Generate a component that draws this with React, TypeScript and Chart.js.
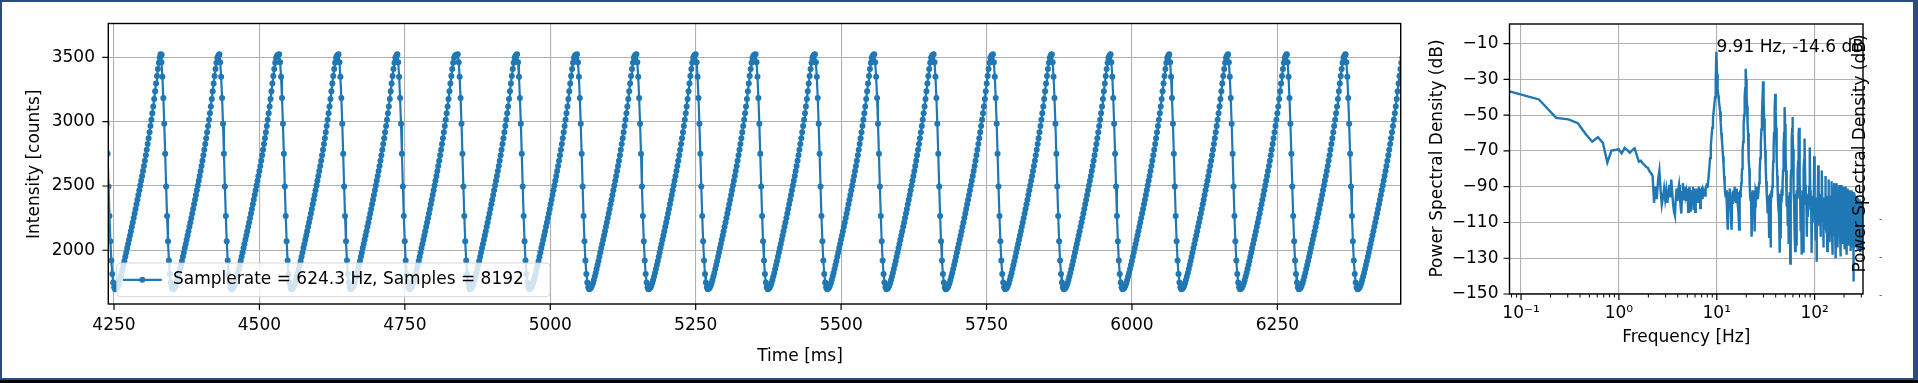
import React, { useEffect, useRef } from 'react';
import { Chart, registerables } from 'chart.js';

Chart.register(...registerables);

// ---------------- data ----------------
const SAMPLE_RATE_HZ = 624.3;
const SAMPLE_COUNT = 8192;

const timeTicks = [4250, 4500, 4750, 5000, 5250, 5500, 5750, 6000, 6250];
const intensityTicks = [2000, 2500, 3000, 3500];

// times (ms) of each pulse maximum
const cyclePeakTimesMs = [
  4231, 4330, 4431, 4534, 4636, 4737, 4841, 4943, 5046, 5148, 5250,
  5353, 5455, 5557, 5659, 5761, 5862, 5963, 6064, 6165, 6266, 6367,
];

// one pulse, sample by sample from its maximum (counts)
const cycleSampleCounts = [
  3525, 3462, 3349, 3185, 2984, 2750, 2497, 2267, 2071, 1920,
  1815, 1750, 1712, 1696, 1700, 1709, 1724, 1744, 1768, 1795,
  1824, 1854, 1885, 1917, 1950, 1983, 2017, 2049, 2081, 2115,
  2148, 2182, 2216, 2251, 2286, 2321, 2357, 2393, 2429, 2466,
  2503, 2540, 2578, 2616, 2656, 2697, 2739, 2782, 2826, 2872,
  2919, 2967, 3016, 3066, 3119, 3177, 3237, 3297, 3355, 3410,
  3458, 3497, 3514, 3521,
];

const freqMajorTicks = [0.1, 1, 10, 100];
const freqMajorLabels = ['10\u207B\u00B9', '10\u2070', '10\u00B9', '10\u00B2'];
const freqMinorTicks = [
  0.08, 0.09, 0.2, 0.3, 0.4, 0.5, 0.6, 0.7, 0.8, 0.9,
  2, 3, 4, 5, 6, 7, 8, 9, 20, 30, 40, 50, 60, 70, 80, 90, 200, 300,
];
const psdTicks = [-150, -130, -110, -90, -70, -50, -30, -10];

// PSD (dB) at FFT bins 1..104
const psdDbBins1to104 = [
  -36.7, -41.2, -51.5, -52.3, -54.5, -60.5, -64.8, -62.3, -65.5, -76.5,
  -69.8, -69.5, -69.0, -71.3, -68.3, -69.5, -71.0, -69.5, -68.5, -72.5,
  -76.0, -75.5, -77.0, -78.0, -79.0, -79.5, -81.5, -82.5,
  -84, -99, -90, -97, -86, -81, -92, -100, -96, -91,
  -97, -92, -99, -94, -89, -96, -86, -93, -100, -104,
  -106, -97, -91, -98, -92, -89, -95, -101, -105, -93,
  -88, -92, -97, -90, -95, -93, -98, -91, -104, -96,
  -90, -95, -104, -97, -92, -96, -90, -103, -95, -91,
  -104, -97, -92, -96, -91, -99, -94, -90, -96, -93,
  -102, -95, -91, -94, -90, -97, -93, -95, -91, -94,
  -92, -95, -91, -90, -88, -90,
];
// PSD (dB) at FFT bins 106..330, every 2nd bin
const psdDbBins106to330 = [
  -90, -85, -80, -74, -68, -62, -57, -52, -48, -44, -40, -31, -14.6, -27,
  -35, -39, -42, -45, -48, -54, -60, -64, -68, -73, -78, -84, -89, -94,
  -96, -92, -99, -108, -114, -100, -93, -97, -91, -95, -102, -110, -114,
  -99, -93, -96, -92, -98, -94, -90, -96, -92, -99, -95, -91, -97, -93,
  -100, -104, -108, -114, -103, -95, -92, -96,
  -92, -88, -84, -80, -75, -70, -65, -60, -55, -50, -45, -40, -35, -30, -24,
  -30, -35, -40, -45, -50, -55, -60, -65, -70, -75, -80, -85, -90, -95, -98,
  -93, -97, -104, -112, -118, -103, -95, -92, -97, -93, -99, -95, -92, -98,
  -108, -115, -101, -94, -97, -92,
];
// PSD (dB) at FFT bins 335..1035, every 5th bin
const psdDbBins335to1035 = [
  -94, -90, -97, -93, -88, -82, -74, -66, -58, -50, -41,
  -31,
  -42, -52, -61, -70, -79, -87, -94, -99, -105, -95, -100, -118, -98, -94,
  -124, -100, -92, -96, -90,
  -84, -76, -68, -60, -53, -46,
  -38,
  -48, -57, -66, -75, -84, -92, -98, -104, -96, -110, -127, -101, -94,
  -119, -97, -92, -99, -91, -95, -88,
  -81, -74, -67, -60, -53,
  -45.5,
  -55, -64, -73, -81, -89, -95, -101, -96, -112, -104, -97, -122, -105,
  -95, -100, -93, -100, -133, -91, -86,
  -81, -75, -69, -63, -57,
  -51,
  -60, -69, -78, -86, -93, -99, -108, -96, -117, -126, -101, -94, -110,
  -97, -123, -99, -92, -96, -89, -85, -81, -76, -71, -66, -61,
  -57,
  -65, -73, -81, -88, -96, -104, -97, -115, -100, -128, -103, -95, -112,
  -99, -120, -97, -92, -99, -127, -88, -85, -80, -75, -70, -67,
];
// PSD (dB) at FFT bins 1040..4082, every 13th bin
const psdDbBins1040to4082 = [
  -63, -89, -100, -94, -118, -97, -107, -96, -101, -90,
  -68, -92, -103, -96, -127, -99, -110, -95, -104, -94,
  -73, -95, -104, -97, -120, -98, -132, -96, -102, -97,
  -78, -97, -108, -95, -112, -100, -118, -94, -106, -99,
  -81, -99, -110, -96, -124, -101, -113, -97, -104, -100,
  -84, -100, -114, -95, -116, -102, -126, -96, -108, -98,
  -86, -101, -112, -97, -121, -99, -113, -95, -110, -99,
  -87, -103, -116, -96, -128, -100, -117, -97, -112, -98,
  -88, -104, -115, -94, -119, -101, -130, -96, -111, -99,
  -88, -105, -118, -97, -124, -100, -112, -95, -115, -100,
  -89, -106, -117, -96, -118, -102, -129, -97, -113, -99,
  -89, -107, -120, -98, -122, -101, -115, -96, -117, -100,
  -90, -108, -117, -97, -125, -103, -119, -98, -114, -101,
  -90, -109, -121, -99, -128, -102, -114, -97, -118, -100,
  -91, -110, -120, -98, -118, -104, -123, -99, -115, -102,
  -92, -111, -122, -100, -126, -103, -117, -98, -119, -101,
  -92, -112, -119, -99, -121, -105, -124, -100, -116, -103,
  -93, -143, -123, -101, -120, -104, -118, -99, -121, -102,
  -94, -112, -118, -100, -124, -106, -120, -101, -117, -103,
  -95, -114, -121, -102, -119, -105, -125, -100, -118, -104,
  -96, -113, -125, -101, -122, -107, -119, -102, -120, -103,
  -97, -116, -120, -103, -126, -106, -121, -101, -117, -105,
  -98, -117, -124, -102, -119, -108, -123, -103, -121, -104,
  -99, -118, -110, -122, -106,
];

const peakFreqHz = 9.91;
const peakDb = -14.6;

// ---------------- tables built from the arrays ----------------
const SAMPLE_MS = 1000 / SAMPLE_RATE_HZ;
const BIN_HZ = SAMPLE_RATE_HZ / SAMPLE_COUNT;

const timeSeries = cyclePeakTimesMs.flatMap((t0) =>
  cycleSampleCounts.map((v, i) => ({ x: t0 + i * SAMPLE_MS, y: v }))
);

const psdSegments = [
  { firstBin: 1, binStep: 1, db: psdDbBins1to104 },
  { firstBin: 106, binStep: 2, db: psdDbBins106to330 },
  { firstBin: 335, binStep: 5, db: psdDbBins335to1035 },
  { firstBin: 1040, binStep: 13, db: psdDbBins1040to4082 },
];
const psdSeries = psdSegments.flatMap((s) =>
  s.db.map((d, i) => ({ x: (s.firstBin + i * s.binStep) * BIN_HZ, y: d }))
);

const legendLabel = `Samplerate = ${SAMPLE_RATE_HZ} Hz, Samples = ${SAMPLE_COUNT}`;
const peakLabel = `${peakFreqHz} Hz, ${peakDb} dB`;

// ---------------- style ----------------
const BLUE = '#1f77b4';
const GRID = '#b0b0b0';
const INK = '#000000';
const FRAME_BLUE = '#2b4c7e';
const FAMILY = '"DejaVu Sans", sans-serif';
const FS = 17;
const font = (size: number = FS) => `${size}px ${FAMILY}`;

function strokeSpines(ctx: CanvasRenderingContext2D, a: any) {
  ctx.strokeStyle = INK;
  ctx.lineWidth = 1.4;
  ctx.strokeRect(a.left, a.top, a.right - a.left, a.bottom - a.top);
}

function rotatedText(ctx: CanvasRenderingContext2D, text: string, x: number, y: number) {
  ctx.save();
  ctx.translate(x, y);
  ctx.rotate(-Math.PI / 2);
  ctx.textAlign = 'center';
  ctx.textBaseline = 'middle';
  ctx.fillText(text, 0, 0);
  ctx.restore();
}

const timeDecor = {
  id: 'timeDecor',
  afterDatasetsDraw(chart: any) {
    const { ctx, chartArea: a, scales } = chart;
    ctx.save();
    strokeSpines(ctx, a);
    ctx.lineWidth = 1.2;
    ctx.strokeStyle = INK;
    ctx.beginPath();
    for (const v of timeTicks) {
      const px = scales.x.getPixelForValue(v);
      ctx.moveTo(px, a.bottom);
      ctx.lineTo(px, a.bottom + 6);
    }
    for (const v of intensityTicks) {
      const py = scales.y.getPixelForValue(v);
      ctx.moveTo(a.left, py);
      ctx.lineTo(a.left - 6, py);
    }
    ctx.stroke();

    ctx.fillStyle = INK;
    ctx.font = font();
    ctx.textAlign = 'center';
    ctx.textBaseline = 'middle';
    ctx.fillText('Time [ms]', (a.left + a.right) / 2 + 45.5, a.bottom + 53);
    rotatedText(ctx, 'Intensity [counts]', a.left - 74.1, (a.top + a.bottom) / 2 + 0.5);

    // legend
    const lx = a.left + 8.4;
    const lw = 433.3;
    const lh = 33.7;
    const ly = a.bottom - 7.3 - lh;
    ctx.beginPath();
    if ((ctx as any).roundRect) (ctx as any).roundRect(lx, ly, lw, lh, 4);
    else ctx.rect(lx, ly, lw, lh);
    ctx.fillStyle = 'rgba(255,255,255,0.8)';
    ctx.fill();
    ctx.strokeStyle = 'rgba(204,204,204,0.8)';
    ctx.lineWidth = 1;
    ctx.stroke();
    const cy = ly + lh / 2;
    ctx.strokeStyle = BLUE;
    ctx.lineWidth = 2.2;
    ctx.beginPath();
    ctx.moveTo(lx + 6.3, cy);
    ctx.lineTo(lx + 45, cy);
    ctx.stroke();
    ctx.fillStyle = BLUE;
    ctx.beginPath();
    ctx.arc(lx + 25.6, cy, 3, 0, Math.PI * 2);
    ctx.fill();
    ctx.fillStyle = INK;
    ctx.textAlign = 'left';
    ctx.textBaseline = 'middle';
    ctx.fillText(legendLabel, lx + 56.3, cy);
    ctx.restore();
  },
};

const psdDecor = {
  id: 'psdDecor',
  afterDatasetsDraw(chart: any) {
    const { ctx, chartArea: a, scales } = chart;
    ctx.save();
    strokeSpines(ctx, a);
    ctx.strokeStyle = INK;
    ctx.lineWidth = 1.2;
    ctx.beginPath();
    for (const v of freqMajorTicks) {
      const px = scales.x.getPixelForValue(v);
      ctx.moveTo(px, a.bottom);
      ctx.lineTo(px, a.bottom + 6);
    }
    for (const v of psdTicks) {
      const py = scales.y.getPixelForValue(v);
      ctx.moveTo(a.left, py);
      ctx.lineTo(a.left - 6, py);
    }
    ctx.stroke();
    ctx.lineWidth = 1;
    ctx.beginPath();
    for (const v of freqMinorTicks) {
      const px = scales.x.getPixelForValue(v);
      ctx.moveTo(px, a.bottom);
      ctx.lineTo(px, a.bottom + 3.5);
    }
    ctx.stroke();

    ctx.fillStyle = INK;
    ctx.font = font();
    ctx.textAlign = 'center';
    ctx.textBaseline = 'middle';
    ctx.fillText('Frequency [Hz]', (a.left + a.right) / 2, a.bottom + 43.3);
    rotatedText(ctx, 'Power Spectral Density (dB)', a.left - 71.8, (a.top + a.bottom) / 2 - 0.5);
    rotatedText(ctx, 'Power Spectral Density (dB)', a.right - 2.3, (a.top + a.bottom) / 2 - 5.5);

    // peak annotation
    ctx.textAlign = 'left';
    ctx.textBaseline = 'alphabetic';
    ctx.fillText(peakLabel, scales.x.getPixelForValue(peakFreqHz), scales.y.getPixelForValue(peakDb));

    // stray tick labels on the right
    ctx.fillStyle = '#333';
    ctx.font = font(9);
    ctx.textAlign = 'center';
    ctx.textBaseline = 'middle';
    for (const dy of [1.3, -36.7, -74.7]) ctx.fillText('-', a.right + 17.5, a.bottom + dy);
    ctx.restore();
  },
};

function timeConfig(): any {
  return {
    type: 'line',
    data: {
      datasets: [
        {
          data: timeSeries,
          borderColor: BLUE,
          backgroundColor: BLUE,
          borderWidth: 2.2,
          pointRadius: 3,
          pointBorderWidth: 0,
          pointBackgroundColor: BLUE,
          pointHoverRadius: 0,
          tension: 0,
          fill: false,
        },
      ],
    },
    options: {
      animation: false,
      responsive: false,
      devicePixelRatio: 1,
      events: [],
      layout: { padding: { left: 0, top: 15, right: 4.3, bottom: 0 } },
      plugins: { legend: { display: false }, tooltip: { enabled: false } },
      scales: {
        x: {
          type: 'linear',
          min: 4240.2,
          max: 6462,
          afterBuildTicks: (s: any) => {
            s.ticks = timeTicks.map((v) => ({ value: v }));
          },
          afterFit: (s: any) => {
            s.height = 79;
          },
          ticks: {
            autoSkip: false,
            maxRotation: 0,
            padding: 11.3,
            color: INK,
            font: { family: FAMILY, size: FS },
            callback: (v: any) => String(v),
          },
          grid: { color: GRID, lineWidth: 1.1, drawTicks: false },
          border: { display: false },
        },
        y: {
          type: 'linear',
          min: 1582,
          max: 3764,
          afterBuildTicks: (s: any) => {
            s.ticks = intensityTicks.map((v) => ({ value: v }));
          },
          afterFit: (s: any) => {
            s.width = 108.3;
          },
          ticks: {
            autoSkip: false,
            padding: 13.3,
            color: INK,
            font: { family: FAMILY, size: FS },
            callback: (v: any) => String(v),
          },
          grid: { color: GRID, lineWidth: 1.1, drawTicks: false },
          border: { display: false },
        },
      },
    },
    plugins: [timeDecor],
  };
}

function psdConfig(): any {
  return {
    type: 'line',
    data: {
      datasets: [
        {
          data: psdSeries,
          borderColor: BLUE,
          backgroundColor: BLUE,
          borderWidth: 2.4,
          pointRadius: 0,
          pointHoverRadius: 0,
          tension: 0,
          fill: false,
        },
      ],
    },
    options: {
      animation: false,
      responsive: false,
      devicePixelRatio: 1,
      events: [],
      layout: { padding: { left: 0, top: 24, right: 50, bottom: 0 } },
      plugins: { legend: { display: false }, tooltip: { enabled: false } },
      scales: {
        x: {
          type: 'logarithmic',
          min: BIN_HZ,
          max: SAMPLE_RATE_HZ / 2,
          afterBuildTicks: (s: any) => {
            s.ticks = [...freqMajorTicks, ...freqMinorTicks]
              .sort((p, q) => p - q)
              .map((v) => ({ value: v }));
          },
          afterFit: (s: any) => {
            s.height = 89;
          },
          ticks: {
            autoSkip: false,
            maxRotation: 0,
            padding: 9.1,
            color: INK,
            font: { family: FAMILY, size: FS },
            callback: (v: any) => {
              const i = freqMajorTicks.indexOf(Number(v));
              return i >= 0 ? freqMajorLabels[i] : '';
            },
          },
          grid: {
            color: (c: any) =>
              c.tick && freqMajorTicks.includes(c.tick.value) ? GRID : 'rgba(0,0,0,0)',
            lineWidth: 1.1,
            drawTicks: false,
          },
          border: { display: false },
        },
        y: {
          type: 'linear',
          min: -150,
          max: 1,
          afterBuildTicks: (s: any) => {
            s.ticks = psdTicks.map((v) => ({ value: v }));
          },
          afterFit: (s: any) => {
            s.width = 104.5;
          },
          ticks: {
            autoSkip: false,
            padding: 11,
            color: INK,
            font: { family: FAMILY, size: FS },
            callback: (v: any) => (Number(v) < 0 ? '\u2212' + Math.abs(Number(v)) : String(v)),
          },
          grid: { color: GRID, lineWidth: 1.1, drawTicks: false },
          border: { display: false },
        },
      },
    },
    plugins: [psdDecor],
  };
}

export default function App() {
  const leftRef = useRef<HTMLCanvasElement>(null);
  const rightRef = useRef<HTMLCanvasElement>(null);

  useEffect(() => {
    const c1 = new Chart(leftRef.current as HTMLCanvasElement, timeConfig());
    const c2 = new Chart(rightRef.current as HTMLCanvasElement, psdConfig());
    return () => {
      c1.destroy();
      c2.destroy();
    };
  }, []);

  return (
    <div
      style={{
        position: 'fixed',
        left: 0,
        top: 0,
        width: 1918,
        height: 383,
        background: '#000',
        overflow: 'hidden',
      }}
    >
      <div style={{ position: 'absolute', left: 0, top: 0, width: 1918, height: 380, background: FRAME_BLUE }} />
      <div style={{ position: 'absolute', left: 2, top: 2, width: 1911, height: 376, background: '#fff' }} />
      <canvas ref={leftRef} width={1405} height={383} style={{ position: 'absolute', left: 0, top: 0 }} />
      <canvas ref={rightRef} width={508} height={383} style={{ position: 'absolute', left: 1405, top: 0 }} />
    </div>
  );
}
